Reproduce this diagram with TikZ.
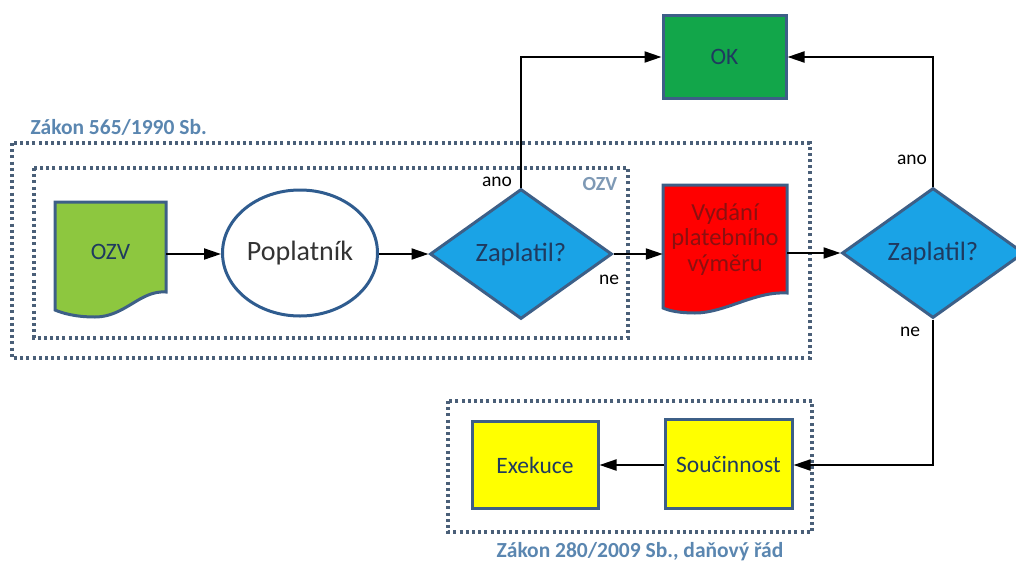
\documentclass[tikz,border=0pt]{standalone}
\usepackage{fontspec}
\setmainfont{Carlito}
\usetikzlibrary{shapes.geometric,arrows.meta,calc}
\definecolor{shapeborder}{HTML}{3D5F87}
\definecolor{ellborder}{HTML}{2F5C8F}
\definecolor{dotcol}{HTML}{4A5F78}
\definecolor{titlecol}{HTML}{5A86B0}
\definecolor{labcol}{HTML}{7E99B5}
\definecolor{ozvgreen}{HTML}{8DC73F}
\definecolor{dblue}{HTML}{1AA3E6}
\definecolor{dtext}{HTML}{1F3A5F}
\definecolor{redtext}{HTML}{8B1010}
\definecolor{okgreen}{HTML}{12A64A}
\definecolor{yel}{HTML}{FFFF00}
\begin{document}
\begin{tikzpicture}[x=1pt,y=-1pt,
  dotbox/.style={draw=dotcol, line width=3.5pt, dash pattern=on 3pt off 3.2pt},
  shp/.style={draw=shapeborder, line width=3pt},
  boxnode/.style={shp, rectangle, inner sep=0pt, font=\fontsize{23.5}{26}\selectfont, text=dtext},
  dia/.style={shp, diamond, fill=dblue, minimum width=182pt, minimum height=130pt, inner sep=0pt, font=\fontsize{26.5}{30}\selectfont, text=dtext},
  arr/.style={draw=black, line width=2pt, -{Triangle[length=17pt,width=11pt]}},
  lab/.style={font=\fontsize{19.5}{22}\selectfont, text=black},
  title/.style={font=\bfseries\fontsize{21.5}{24}\selectfont, text=titlecol}
]
\useasboundingbox (0,0) rectangle (1016,562);

% dotted group boxes
\draw[dotbox] (12,143) rectangle (810,358);
\draw[dotbox] (34,168) rectangle (628,338);
\draw[dotbox] (448,401) rectangle (812,532);

% titles
\node[title, anchor=west] (t1) at (27,127) {Zákon 565/1990 Sb.};
\node[title] (t2) at (640,552) {Zákon 280/2009 Sb., daňový řád};
\node[font=\bfseries\fontsize{20}{23}\selectfont, text=labcol] (t3) at (600,184) {OZV};

% OZV document
\draw[shp, fill=ozvgreen] (55,202) -- (166,202) -- (166,292)
  .. controls (140,290) and (125,317) .. (95,317)
  .. controls (75,317) and (62,313) .. (55,310) -- cycle;
\node[minimum width=111pt, minimum height=104pt, inner sep=0pt,
      font=\fontsize{23.5}{26}\selectfont, text=dtext] (ozv) at (110.5,254) {\raisebox{4pt}{OZV}};

% Poplatnik ellipse
\node[draw=ellborder, line width=3pt, ellipse, fill=white, minimum width=155pt, minimum height=126pt,
      inner sep=0pt, font=\fontsize{28}{32}\selectfont, text=black!80] (pop) at (300,253) {Poplatník};

% Diamond 1
\node[dia] (d1) at (521,254) {Zaplatil?};

% Vydani document
\draw[shp, fill=red] (663,185) -- (787,185) -- (787,293)
  .. controls (755,291) and (725,313) .. (695,313)
  .. controls (680,313) and (670,311) .. (663,308) -- cycle;
\node[minimum width=124pt, minimum height=108pt, inner sep=0pt, align=center,
      font=\fontsize{24.5}{25.5}\selectfont, text=redtext] (vyd) at (725,239) {Vydání\\platebního\\výměru};

% Diamond 2
\node[dia] (d2) at (933,253) {Zaplatil?};

% OK
\node[boxnode, fill=okgreen, minimum width=123pt, minimum height=83pt] (ok) at (724.5,57) {OK};

% Bottom boxes
\node[boxnode, fill=yel, minimum width=126pt, minimum height=87pt] (exe) at (535,465) {Exekuce};
\node[boxnode, fill=yel, minimum width=127pt, minimum height=89pt] (sou) at (728.5,464) {Součinnost};

% connectors
\draw[arr] (ozv.east |- 0,254) -- (pop.west |- 0,254);
\draw[arr] (pop.east |- d1.west) -- (d1.west);
\draw[arr] (d1.east) -- (vyd.west |- d1.east);
\draw[arr] (vyd.east |- d2.west) -- (d2.west);
\draw[arr] (d1.north) |- (ok.west);
\draw[arr] (d2.north) |- (ok.east);
\draw[arr] (d2.south) |- (sou.east |- 0,465);
\draw[arr] (sou.west |- 0,465) -- (exe.east |- 0,465);

% labels
\node[lab] (l1) at (497,182) {ano};
\node[lab] (l2) at (609,280) {ne};
\node[lab] (l3) at (912,160) {ano};
\node[lab] (l4) at (910,332) {ne};
\end{tikzpicture}
\end{document}
